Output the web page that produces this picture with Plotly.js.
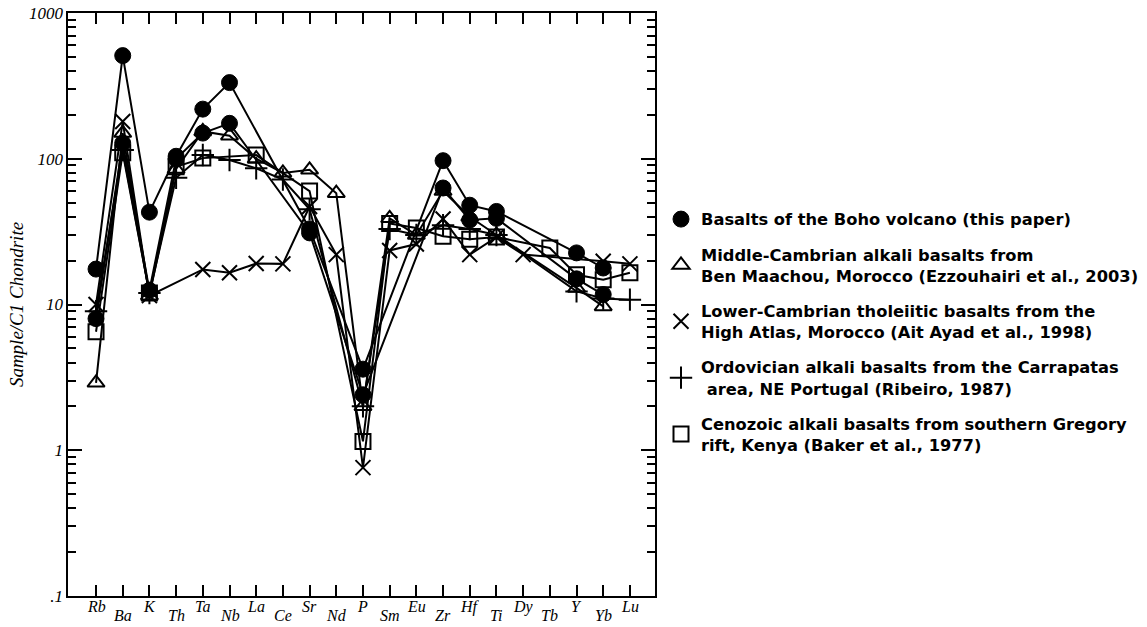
<!DOCTYPE html>
<html>
<head>
<meta charset="utf-8">
<script src="https://cdn.plot.ly/plotly-3.0.1.min.js"></script>
<style>
html,body{margin:0;padding:0;background:#fff;}
#chart{width:1147px;height:627px;}
</style>
</head>
<body>
<div id="chart"></div>
<script>
// Categories (elements), in diagram order
const elements = ["Rb","Ba","K","Th","Ta","Nb","La","Ce","Sr","Nd","P","Sm","Eu","Zr","Hf","Ti","Dy","Tb","Y","Yb","Lu"];

// Basalts of the Boho volcano (this paper) - two samples
const boho1 = [17.5, 510, 43, 104, 219, 333, null, null, 33, null, 3.6, null, null, 97, 48, 43.5, null, null, 22.6, 17.8, null];
const boho2 = [8, 128, 12.5, 100, 150, 175, null, null, 31, null, 2.4, null, null, 63, 38, 39, null, null, 15, 11.7, null];
// Middle-Cambrian alkali basalts, Ben Maachou (Ezzouhairi et al., 2003)
const benMaachou = [2.9, 150, 11.5, 85, 154, 144, 100, 80, 84, 58, 2.0, 39, 30, 60, 40, 30, null, null, 13, 9.7, null];
// Lower-Cambrian tholeiitic basalts, High Atlas (Ait Ayad et al., 1998)
const highAtlas = [10, 180, 11.5, null, 17.4, 16.5, 19.1, 19, 47, 22, 0.76, 23.5, 26, 38.6, 22, 29, 22, null, null, 19.8, 19];
// Ordovician alkali basalts, Carrapatas (Ribeiro, 1987)
const carrapatas = [9, 115, 12, 74, 106, 98, 86, 72, 45, null, 2.0, 33, 30, 35, 33, 30, null, null, 12.3, 11, 10.8];
// Cenozoic alkali basalts, southern Gregory rift (Baker et al., 1977)
const gregory = [6.5, 110, 12, 88, 101, null, 106, null, 60, null, 1.15, 36, 33.5, 29.4, 28, 29, null, 24.4, 16, 14.8, 16.5];

const legendNames = [
  "Basalts of the Boho volcano (this paper)",
  "Middle-Cambrian alkali basalts from<br>Ben Maachou, Morocco (Ezzouhairi et al., 2003)",
  "Lower-Cambrian tholeiitic basalts from the<br>High Atlas, Morocco (Ait Ayad et al., 1998)",
  "Ordovician alkali basalts from the Carrapatas<br> area, NE Portugal (Ribeiro, 1987)",
  "Cenozoic alkali basalts from southern Gregory<br>rift, Kenya (Baker et al., 1977)"
];

const yTickVals = [0.1, 1, 10, 100, 1000];
const yTickText = [".1", "1", "10", "100", "1000"];

const markerStyles = [
  {symbol: "circle", size: 16, color: "#000", line: {color: "#000", width: 1}},
  {symbol: "triangle-up-open", size: 15, color: "#000", line: {color: "#000", width: 2}},
  {symbol: "x-thin-open", size: 15, color: "#000", line: {color: "#000", width: 2}},
  {symbol: "cross-thin-open", size: 16, color: "#000", line: {color: "#000", width: 2}},
  {symbol: "square-open", size: 15, color: "#000", line: {color: "#000", width: 2}}
];

const seriesList = [
  {y: gregory, m: 4},
  {y: carrapatas, m: 3},
  {y: highAtlas, m: 2},
  {y: benMaachou, m: 1},
  {y: boho2, m: 0},
  {y: boho1, m: 0}
];

const traces = seriesList.map(s => ({
  type: "scatter",
  mode: "lines+markers",
  x: elements,
  y: s.y,
  connectgaps: true,
  showlegend: false,
  line: {color: "#000", width: 2},
  marker: markerStyles[s.m],
  hoverinfo: "x+y"
}));

// Legend-only traces (markers only)
legendNames.forEach((name, i) => {
  traces.push({
    type: "scatter",
    mode: "markers",
    x: [null],
    y: [null],
    name: name,
    legendgroup: "g" + i,
    showlegend: true,
    marker: markerStyles[i]
  });
});

// invisible trace carrying the labelled y axis
traces.push({
  type: "scatter", mode: "markers", x: [elements[0]], y: [null], yaxis: "y2",
  showlegend: false, hoverinfo: "skip", marker: {opacity: 0}
});

const serifFam = "Liberation Serif, Times New Roman, serif";

// staggered element labels
const annotations = elements.map((el, i) => ({
  x: el,
  y: 0,
  xref: "x",
  yref: "paper",
  yanchor: "top",
  yshift: (i % 2 === 0) ? 0 : -9,
  text: "<i>" + el + "</i>",
  showarrow: false,
  font: {family: serifFam, size: 16, color: "#000"}
}));

const layout = {
  width: 1147,
  height: 627,
  paper_bgcolor: "#fff",
  plot_bgcolor: "#fff",
  margin: {l: 68, r: 492, t: 13, b: 31},
  xaxis: {
    type: "category",
    categoryarray: elements,
    range: [-1.05, 20.94],
    showline: true,
    linecolor: "#000",
    linewidth: 2,
    mirror: "ticks",
    ticks: "inside",
    ticklen: 11,
    tickwidth: 2,
    tickcolor: "#000",
    showticklabels: false,
    showgrid: false,
    zeroline: false
  },
  yaxis: {
    type: "log",
    range: [-1, 3],
    tickmode: "linear",
    tick0: 0,
    dtick: 1,
    showticklabels: false,
    showline: true,
    linecolor: "#000",
    linewidth: 2,
    mirror: "ticks",
    ticks: "inside",
    ticklen: 14,
    tickwidth: 2,
    tickcolor: "#000",
    minor: {dtick: "D1", ticks: "inside", ticklen: 8, tickwidth: 1.5, tickcolor: "#000", showgrid: false},
    showgrid: false,
    zeroline: false
  },
  yaxis2: {
    type: "log",
    range: [-1, 3],
    overlaying: "y",
    side: "left",
    tickmode: "array",
    tickvals: yTickVals,
    ticktext: yTickText,
    tickfont: {family: serifFam, size: 17, color: "#000", style: "italic"},
    ticks: "",
    ticklabelstandoff: 4,
    showline: false,
    showgrid: false,
    zeroline: false,
    title: {text: "<i>Sample/C1 Chondrite</i>", font: {family: serifFam, size: 19, color: "#000"}, standoff: 0}
  },
  showlegend: true,
  legend: {
    xref: "container",
    yref: "container",
    x: 661 / 1147,
    y: 1 - 202 / 627,
    xanchor: "left",
    yanchor: "top",
    traceorder: "grouped",
    tracegroupgap: 11,
    valign: "middle",
    itemwidth: 30,
    bgcolor: "rgba(0,0,0,0)",
    font: {family: "DejaVu Sans, Liberation Sans, Arial, sans-serif", size: 16.3, color: "#000", weight: "bold"}
  },
  annotations: annotations
};

Plotly.newPlot("chart", traces, layout, {displayModeBar: false});
</script>
</body>
</html>
